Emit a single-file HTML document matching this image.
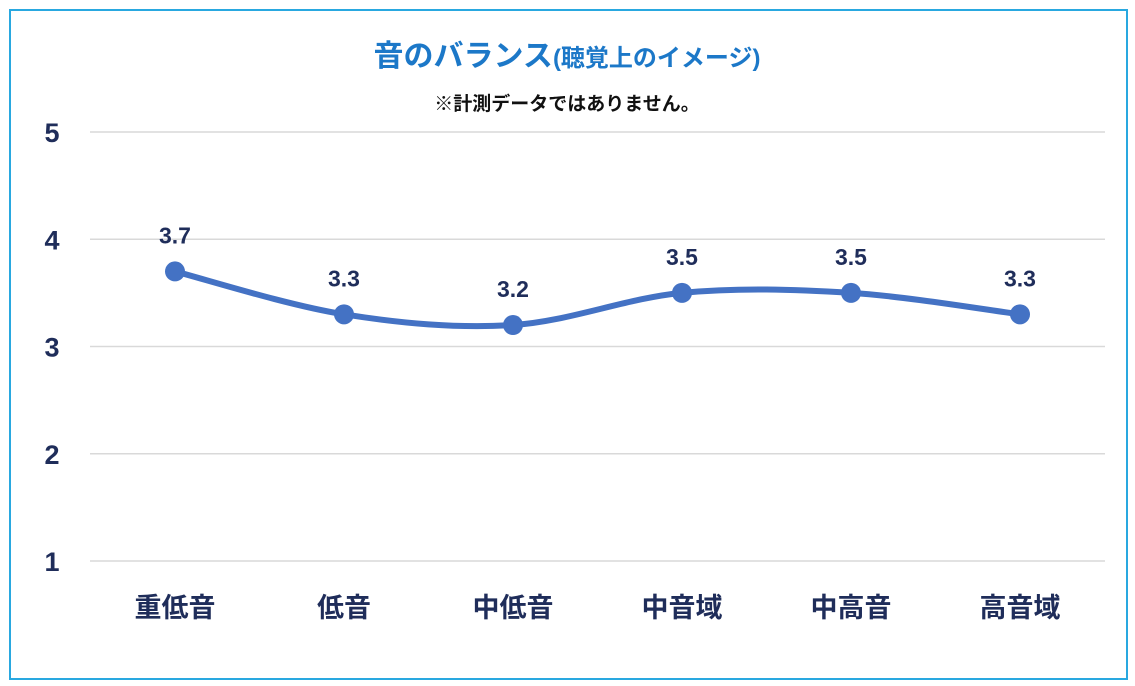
<!DOCTYPE html>
<html><head><meta charset="utf-8"><style>
body{margin:0;background:#fff;}
svg{display:block;font-family:"Liberation Sans","Noto Sans CJK JP",sans-serif;}
</style></head><body>
<svg id="chart" width="1135" height="686">
<rect x="10" y="10" width="1117" height="669" fill="#fff" stroke="#29a8e0" stroke-width="2"/>
<text x="567" y="66" text-anchor="middle" font-size="30" font-weight="bold" fill="#1c78c8">音のバランス<tspan font-size="24">(聴覚上のイメージ)</tspan></text>
<text x="567" y="110" text-anchor="middle" font-size="19" font-weight="bold" fill="#111">※計測データではありません。</text>
<g id="grid"></g><g id="series"></g>
</svg>
<script>
const categories=["重低音","低音","中低音","中音域","中高音","高音域"];
const values=[3.7,3.3,3.2,3.5,3.5,3.3];
const yTicks=[1,2,3,4,5];
const ns="http://www.w3.org/2000/svg";
const x0=175,dx=169;
function xs(i){return x0+i*dx;}
function ys(v){return 561-(v-1)*107.25;}
const grid=document.getElementById('grid'),ser=document.getElementById('series');
function mk(tag,attrs,parent){const e=document.createElementNS(ns,tag);for(const k in attrs)e.setAttribute(k,attrs[k]);parent.appendChild(e);return e;}
yTicks.forEach(t=>{
 const l=mk('line',{x1:90,x2:1105,y1:ys(t),y2:ys(t),stroke:'#d9d9d9','stroke-width':1.5},grid);
 
 
 const tx=mk('text',{x:52,y:ys(t)+10,'text-anchor':'middle','font-size':27,'font-weight':'bold',fill:'#1f2d5a'},grid);
 tx.textContent=t;
 
 
});
categories.forEach((c,i)=>{
 const tx=mk('text',{x:xs(i),y:617,'text-anchor':'middle','font-size':27,'font-weight':'bold',fill:'#1f2d5a'},grid);
 tx.textContent=c;
 
 
});
const pts=values.map((v,i)=>[xs(i),ys(v)]);
let d='M'+pts[0][0]+','+pts[0][1];
const k=1/6;
for(let i=0;i<pts.length-1;i++){
 const p0=pts[Math.max(0,i-1)],p1=pts[i],p2=pts[i+1],p3=pts[Math.min(pts.length-1,i+2)];
 d+=' C'+(p1[0]+(p2[0]-p0[0])*k)+','+(p1[1]+(p2[1]-p0[1])*k)+' '+(p2[0]-(p3[0]-p1[0])*k)+','+(p2[1]-(p3[1]-p1[1])*k)+' '+p2[0]+','+p2[1];
}
const line=mk('path',{d:d,fill:'none',stroke:'#4472c4','stroke-width':6,'stroke-linecap':'round'},ser);


pts.forEach((p,i)=>{
 const c=mk('circle',{cx:p[0],cy:p[1],r:10,fill:'#4472c4'},ser);
 
 
 const t=mk('text',{x:p[0],y:p[1]-28,'text-anchor':'middle','font-size':23,'font-weight':'bold',fill:'#1f2d5a'},ser);
 t.textContent=values[i].toFixed(1);
 
 
});
</script>
</body></html>
